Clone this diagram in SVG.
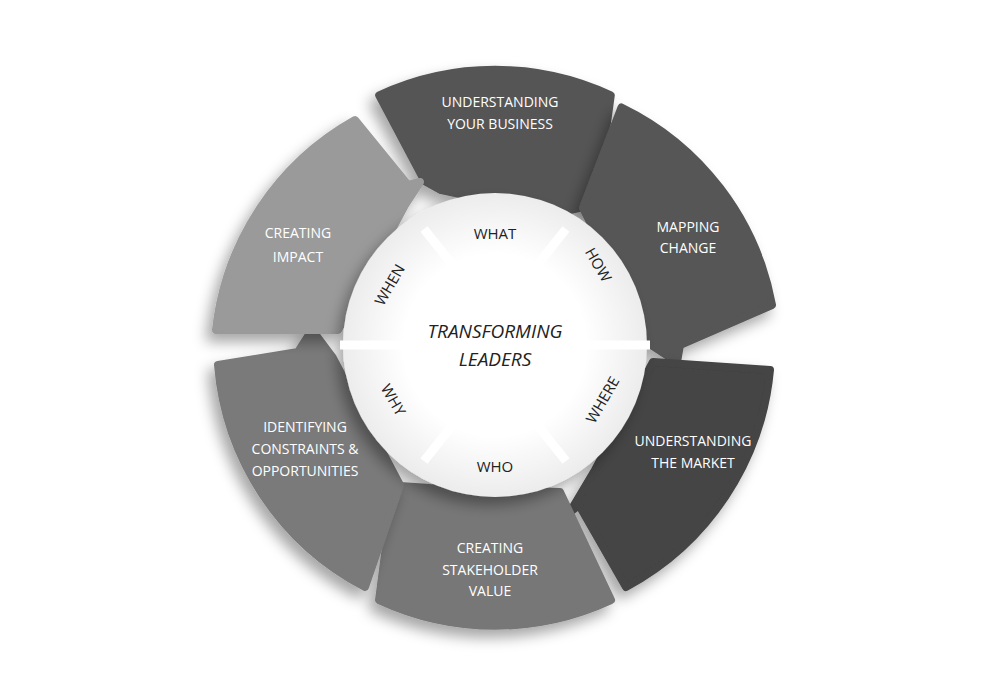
<svg xmlns="http://www.w3.org/2000/svg" width="1000" height="692" viewBox="0 0 1000 692">
<defs>
<filter id="sh" x="-20%" y="-20%" width="140%" height="140%"><feDropShadow dx="-6" dy="8" stdDeviation="7" flood-color="#000" flood-opacity="0.35"/></filter>
<radialGradient id="ig" cx="0.5" cy="0.5" r="0.5"><stop offset="0.6" stop-color="#ffffff"/><stop offset="1" stop-color="#ececec"/></radialGradient>
</defs>
<style>
.seg{stroke-linejoin:round;stroke-width:8;filter:url(#sh)}
.t{font-family:"Open Sans","Liberation Sans",sans-serif;font-size:14px;fill:#fff;text-anchor:middle}
.q{font-family:"Open Sans","Liberation Sans",sans-serif;font-size:15px;fill:#222;text-anchor:middle}
.c{font-family:"Open Sans","Liberation Sans",sans-serif;font-size:19px;font-style:italic;fill:#222;text-anchor:middle}
</style>
<rect width="1000" height="692" fill="#fff"/>
<g id="segments">
<path id="s1" class="seg" fill="#555" stroke="#555" d="M379.2,95.3 A275,275 0 0 1 610.8,95.3 L595.7,205.3 L589.4,205.8 L552.6,213.8 L441.2,190.2 L424.5,180.9 Z"/>
<path id="s2" class="seg" fill="#565656" stroke="#565656" d="M621.5,107.5 A275,275 0 0 1 772.0,305 L680,345 L677,362 L651,345 L583,208 Z"/>
<path id="s3" class="seg" fill="#444" stroke="#444" d="M770,370 A275,275 0 0 1 626,587 L579,505 L570,512 L595,470 L653,362 Z"/>
<path id="s4" class="seg" fill="#777" stroke="#777" d="M611,600 A275,275 0 0 1 379,600 L393,493 L385,485 L430,488 L560,492 Z"/>
<path id="s5" class="seg" fill="#7a7a7a" stroke="#7a7a7a" d="M365,587 A275,275 0 0 1 218,365 L298,352 L312,330 L333,358 L400,485 Z"/>
<path id="s6" class="seg" fill="#9a9a9a" stroke="#9a9a9a" d="M216,330 A275,275 0 0 1 355,120 L408,185 L420,182 L405,205 L338,330 Z"/>
</g>
<g id="inner" filter="url(#sh)">
<circle cx="495" cy="345" r="152" fill="url(#ig)"/>
</g>
<g id="gaps" stroke="#fff" stroke-width="9" fill="none">
<path d="M424,229 L455,268 M566,229 L535,268 M650,345 L580,345 M566,461 L535,422 M424,461 L455,422 M340,345 L410,345"/>
</g>
<circle cx="495" cy="345" r="86" fill="#fff"/>
<g id="labels">
<text class="t" x="500" y="107">UNDERSTANDING</text><text class="t" x="500" y="129">YOUR BUSINESS</text>
<text class="t" x="688" y="232">MAPPING</text><text class="t" x="688" y="253">CHANGE</text>
<text class="t" x="693" y="446">UNDERSTANDING</text><text class="t" x="693" y="468">THE MARKET</text>
<text class="t" x="490" y="553">CREATING</text><text class="t" x="490" y="575">STAKEHOLDER</text><text class="t" x="490" y="596">VALUE</text>
<text class="t" x="305" y="432">IDENTIFYING</text><text class="t" x="305" y="454">CONSTRAINTS &amp;</text><text class="t" x="305" y="476">OPPORTUNITIES</text>
<text class="t" x="298" y="238">CREATING</text><text class="t" x="298" y="262" font-size="17">IMPACT</text>
<text class="q" x="495" y="239">WHAT</text>
<text class="q" transform="translate(598,265) rotate(60)" y="5">HOW</text>
<text class="q" transform="translate(603,400) rotate(-60)" y="5">WHERE</text>
<text class="q" x="495" y="472">WHO</text>
<text class="q" transform="translate(393,400) rotate(60)" y="5">WHY</text>
<text class="q" transform="translate(390,285) rotate(-60)" y="5">WHEN</text>
<text class="c" x="495" y="338">TRANSFORMING</text><text class="c" x="495" y="366">LEADERS</text>
</g>
</svg>
